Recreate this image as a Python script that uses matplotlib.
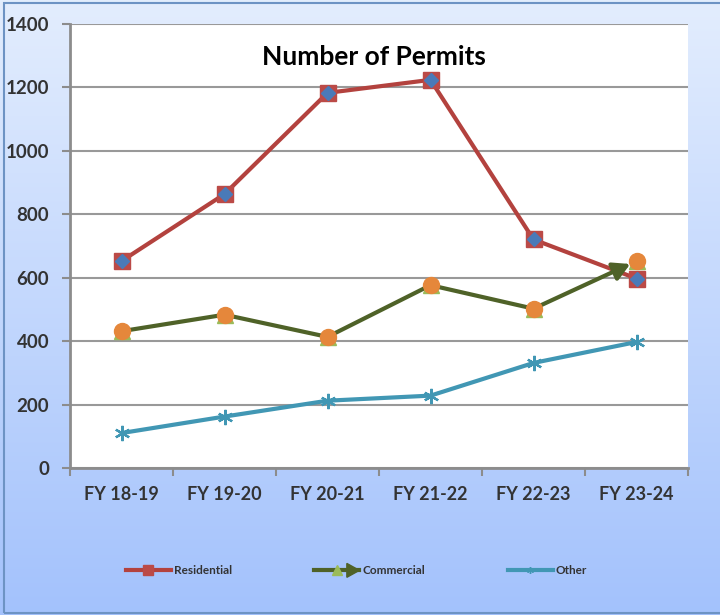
import numpy as np
import matplotlib
matplotlib.use("Agg")
import matplotlib.pyplot as plt
from matplotlib.patches import Rectangle, Polygon
from matplotlib.legend_handler import HandlerLine2D
from matplotlib.lines import Line2D

categories = ["FY 18-19", "FY 19-20", "FY 20-21", "FY 21-22", "FY 22-23", "FY 23-24"]
residential = [653, 864, 1183, 1224, 721, 598]
commercial = [432, 484, 414, 577, 503, 653]
other = [111, 163, 213, 229, 332, 398]
yticks = [0, 200, 400, 600, 800, 1000, 1200, 1400]

RED = "#b3423e"
RED_M = "#bb4a47"
BLUE_D = "#4a7ab8"
GREEN = "#4f6228"
GREEN_T = "#9bbb59"
ORANGE = "#e5873b"
TEAL = "#4197b4"
TXT = "#333333"

plt.rcParams['font.family'] = ['Lato', 'DejaVu Sans']

W, H = 720, 615
fig = plt.figure(figsize=(W / 100, H / 100), dpi=100)

# gradient background
bg = fig.add_axes([0, 0, 1, 1], zorder=-10)
grad = np.linspace(0, 1, 256).reshape(-1, 1)
c_top = np.array([0.89, 0.93, 0.995])
c_bot = np.array([0.64, 0.76, 0.99])
img = c_top[None, None, :] * (1 - grad[..., None]) + c_bot[None, None, :] * grad[..., None]
bg.imshow(img, aspect='auto', extent=[0, 1, 0, 1])
bg.set_xlim(0, 1)
bg.set_ylim(0, 1)
bg.axis('off')
bg.add_patch(Rectangle((4 / W, 2 / H), 1.2, 1 - 5 / H, fill=False,
                       edgecolor="#6d93c4", lw=1.5, transform=bg.transAxes))

left, right, top, bottom = 70, 688, 24, 468.3
ax = fig.add_axes([left / W, 1 - bottom / H, (right - left) / W, (bottom - top) / H])
ax.set_facecolor("white")

x = np.arange(len(categories))
ax.set_xlim(-0.5, len(categories) - 0.5)
ax.set_ylim(0, 1400)
ax.set_yticks(yticks)
ax.set_yticklabels([str(v) for v in yticks], fontsize=13.5, fontweight='bold', color=TXT)
ax.yaxis.grid(True, color="#999999", lw=1.5)
ax.set_axisbelow(True)

ax.set_xticks(np.arange(len(categories) + 1) - 0.5)
ax.set_xticklabels([])
ax.set_xticks(x, minor=True)
ax.set_xticklabels(categories, minor=True, fontsize=13, fontweight='bold', color=TXT)
ax.tick_params(axis='x', which='minor', length=0, pad=13)
ax.tick_params(axis='x', which='major', length=6, width=1.5, color="#8c8c8c")
ax.tick_params(axis='y', length=6, width=1.5, color="#8c8c8c", pad=9)

for s in ['top', 'right']:
    ax.spines[s].set_visible(False)
for s in ['left', 'bottom']:
    ax.spines[s].set_color("#8c8c8c")
    ax.spines[s].set_linewidth(2)

# Other
ax.plot(x, other, color=TEAL, lw=3, zorder=3, solid_capstyle='round',
        marker=(6, 2, 0), ms=11, mec=TEAL, mew=1.6)

# Residential
ax.plot(x, residential, color=RED, lw=3, zorder=4,
        marker='s', ms=11.5, mfc=RED_M, mec=RED_M)
ax.plot(x, residential, ls='none', marker='D', ms=7.5, mfc=BLUE_D, mec=BLUE_D, zorder=5)

# Commercial
ax.plot(x[:-1], commercial[:-1], color=GREEN, lw=3, zorder=6)
ax.annotate('', xy=(x[-1], commercial[-1]), xytext=(x[-2], commercial[-2]),
            arrowprops=dict(arrowstyle='-|>,head_length=0.5,head_width=0.28',
                            color=GREEN, lw=3, mutation_scale=20,
                            shrinkA=0, shrinkB=5), zorder=6)
ax.plot(x, commercial, ls='none', marker='^', ms=11, mfc=GREEN_T, mec=GREEN_T, zorder=7)
ax.plot(x, commercial, ls='none', marker='o', ms=11.5, mfc=ORANGE, mec=ORANGE, zorder=8)

fig.text(374 / W, 1 - 57 / H, "Number of Permits", ha='center', va='center',
         fontsize=19, fontweight='bold', color='black')


class ArrowHandler(HandlerLine2D):
    def create_artists(self, legend, orig_handle, xdescent, ydescent,
                       width, height, fontsize, trans):
        arts = super().create_artists(legend, orig_handle, xdescent, ydescent,
                                      width, height, fontsize, trans)
        y = (height - ydescent) / 2
        xe = -xdescent + width
        head = Polygon([[xe, y], [xe - 9, y + 5], [xe - 9, y - 5]],
                       closed=True, facecolor=GREEN, edgecolor=GREEN,
                       transform=trans)
        return list(arts) + [head]


h_res = Line2D([], [], color=RED, lw=3, marker='s', ms=7, mfc=RED_M, mec=RED_M)
h_com = Line2D([], [], color=GREEN, lw=3, marker='^', ms=7, mfc=GREEN_T, mec=GREEN_T)
h_oth = Line2D([], [], color=TEAL, lw=3, marker=(6, 2, 0), ms=5, mec=TEAL, mew=1)

leg = fig.legend([h_res, h_com, h_oth], ["Residential", "Commercial", "Other"],
                 loc='center', bbox_to_anchor=(0.495, 1 - 571 / H), ncol=3,
                 frameon=False, prop={'size': 8.5, 'weight': 'bold'},
                 handlelength=3.8, handletextpad=0.25, columnspacing=7.0,
                 numpoints=1, handler_map={h_com: ArrowHandler()})
for t in leg.get_texts():
    t.set_color(TXT)

fig.savefig("out.png", dpi=100)
